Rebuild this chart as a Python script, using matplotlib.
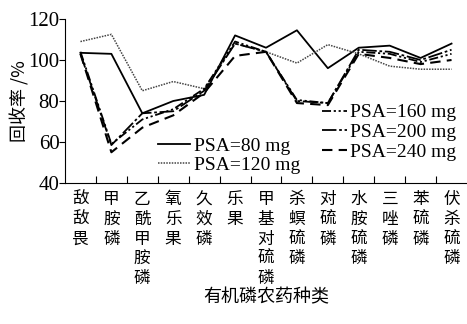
import numpy as np
import matplotlib
matplotlib.use("Agg")
import matplotlib.pyplot as plt

plt.rcParams['font.family'] = ['Liberation Serif', 'Noto Sans CJK SC']
plt.rcParams['mathtext.fontset'] = 'stix'

# 农药名称(竖排)
pesticides = ["敌敌畏", "甲胺磷", "乙酰甲胺磷", "氧乐果", "久效磷", "乐果",
              "甲基对硫磷", "杀螟硫磷", "对硫磷", "水胺硫磷", "三唑磷", "苯硫磷", "伏杀硫磷"]

# 回收率 /%
psa80 = [103.5, 103, 74, 80, 83, 112, 106, 114.5, 96, 106, 107, 101, 108]
psa120 = [109, 112.5, 85, 89.5, 86, 108, 104, 98.5, 107.5, 103, 97, 95.5, 95.5]
psa160 = [104, 59, 71, 76, 86, 109, 104, 80.5, 79, 104, 103, 99, 103]
psa200 = [103, 58.5, 74, 75, 85, 108, 104, 80, 79, 105, 104, 100, 105]
psa240 = [103, 55, 67, 73, 84, 102, 104, 79, 78, 103, 101, 98, 100]

x = np.arange(len(pesticides))

fig = plt.figure(figsize=(4.67, 3.24), dpi=100)
ax = fig.add_axes([65/467, 1-183/324, 402/467, 164/324])

l80, = ax.plot(x, psa80, '-', color='black', lw=1.3, label="PSA=80 mg")
l120, = ax.plot(x, psa120, color='#444444', lw=1.1, ls=(0, (1, 0.8)), label="PSA=120 mg")
l160, = ax.plot(x, psa160, color='black', lw=1.3, ls=(0, (5, 1.5, 1.2, 1.5, 1.2, 1.5)), label="PSA=160 mg")
l200, = ax.plot(x, psa200, color='black', lw=1.3, ls=(0, (8, 1.5, 1.5, 1.5)), label="PSA=200 mg")
l240, = ax.plot(x, psa240, color='black', lw=1.5, ls=(0, (5, 3)), label="PSA=240 mg")

ax.set_xlim(-0.5, 12.5)
ax.set_ylim(40, 120)
ax.set_yticks([40, 60, 80, 100, 120])
ax.spines['top'].set_visible(False)
ax.spines['right'].set_visible(False)
ax.tick_params(axis='y', direction='out', length=4, labelsize=15, pad=0)

# 刻度线在类别之间,标签在类别中央
ax.set_xticks(np.arange(0.5, 12, 1))
ax.tick_params(axis='x', which='major', direction='in', length=5, labelbottom=False)
ax.set_xticks(x, minor=True)
ax.set_xticklabels(["\n".join(name) for name in pesticides], minor=True,
                   family='Noto Sans CJK SC', fontsize=12, linespacing=1.2, va='top')
ax.tick_params(axis='x', which='minor', length=0, pad=6)

ax.set_ylabel("回收率 /%", family=['Noto Sans CJK SC', 'Liberation Serif'], fontsize=13, labelpad=-1)
ax.set_xlabel("有机磷农药种类", family='Noto Sans CJK SC', fontsize=13, labelpad=1)

leg1 = ax.legend(handles=[l80, l120], loc='upper left', bbox_to_anchor=(0.231, 0.281),
                 frameon=False, fontsize=14, handlelength=1.65, handletextpad=0.2,
                 labelspacing=0.1, borderpad=0, borderaxespad=0)
ax.add_artist(leg1)
ax.legend(handles=[l160, l200, l240], loc='upper left', bbox_to_anchor=(0.64, 0.483),
          frameon=False, fontsize=14, handlelength=1.25, handletextpad=0.2,
          labelspacing=0.1, borderpad=0, borderaxespad=0)

fig.savefig("out.png", dpi=100)
